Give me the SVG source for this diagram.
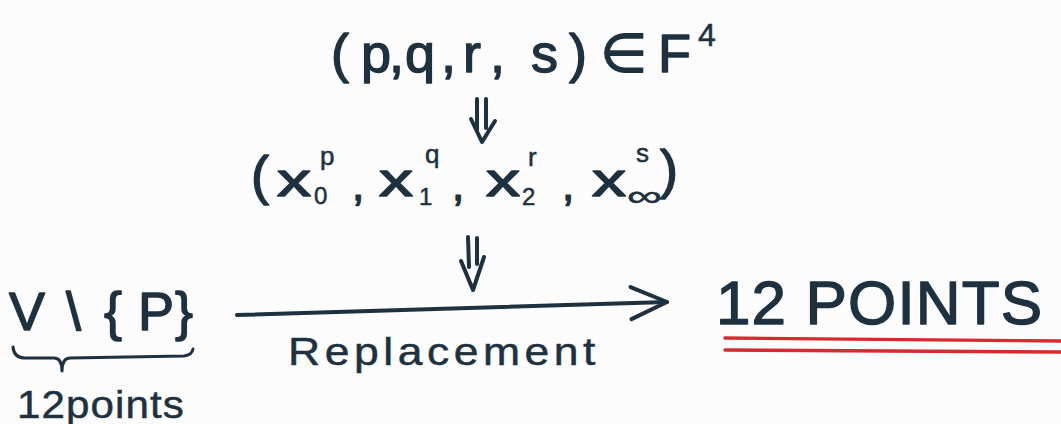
<svg xmlns="http://www.w3.org/2000/svg" width="1061" height="424" viewBox="0 0 1061 424">
  <defs>
    <style>
      .t { font-family: "Liberation Sans", "DejaVu Sans", sans-serif; fill: #1d3140; stroke: #1d3140; stroke-width: 1.4; stroke-linejoin: round; }
      .s { stroke-width: 0.5; }
      .ink { fill: none; stroke: #1d3140; stroke-width: 4; stroke-linecap: round; stroke-linejoin: round; }
      .thin { fill: none; stroke: #1d3140; stroke-width: 3; stroke-linecap: round; stroke-linejoin: round; }
      .red { fill: none; stroke: #d62a2e; stroke-width: 3.4; stroke-linecap: round; }
    </style>
    <marker id="open" markerUnits="userSpaceOnUse" markerWidth="44" markerHeight="40" viewBox="0 0 44 40" refX="40" refY="20" orient="auto">
      <path d="M4,4 L40,20 L4,36" fill="none" stroke="#1d3140" stroke-width="4" stroke-linecap="round" stroke-linejoin="round"/>
    </marker>
  </defs>
  <rect width="1061" height="424" fill="#fcfcfc"/>

  <g id="node-pqrs">
    <text class="t" font-size="54" y="72"><tspan x="331">(</tspan><tspan x="361">p</tspan><tspan x="389">,</tspan><tspan x="405">q</tspan><tspan x="441">,</tspan><tspan x="463">r</tspan><tspan x="490">,</tspan><tspan x="531">s</tspan><tspan x="569">)</tspan><tspan x="600">∈</tspan><tspan x="658">F</tspan></text>
    <text class="t s" font-size="32" x="698" y="46">4</text>
  </g>

  <g id="node-tuple">
    <text class="t" font-size="54" x="251" y="194">(</text>
    <text class="t" font-size="46" x="277" y="196" textLength="34" lengthAdjust="spacingAndGlyphs">x</text>
    <text class="t s" font-size="24" x="314" y="204">0</text>
    <text class="t s" font-size="26" x="320" y="165">p</text>
    <text class="t" font-size="44" x="352" y="200">,</text>
    <text class="t" font-size="46" x="379" y="196" textLength="34" lengthAdjust="spacingAndGlyphs">x</text>
    <text class="t s" font-size="24" x="419" y="205">1</text>
    <text class="t s" font-size="26" x="425" y="163">q</text>
    <text class="t" font-size="44" x="452" y="200">,</text>
    <text class="t" font-size="46" x="486" y="196" textLength="34" lengthAdjust="spacingAndGlyphs">x</text>
    <text class="t s" font-size="24" x="522" y="205">2</text>
    <text class="t s" font-size="26" x="528" y="166">r</text>
    <text class="t" font-size="44" x="562" y="200">,</text>
    <text class="t" font-size="46" x="592" y="196" textLength="34" lengthAdjust="spacingAndGlyphs">x</text>
    <text class="t s" font-size="30" x="627" y="206" textLength="35" lengthAdjust="spacingAndGlyphs">∞</text>
    <text class="t s" font-size="26" x="636" y="162">s</text>
    <text class="t" font-size="54" x="660" y="188">)</text>
  </g>

  <g id="node-source">
    <text class="t" font-size="54" y="330"><tspan x="9">V</tspan><tspan x="66">\</tspan><tspan x="104">{</tspan><tspan x="138">P</tspan><tspan x="175">}</tspan></text>
    <path class="thin" d="M13,347 Q14,358 25,358 L54,358 Q62,358 62,371 Q62,358 70,358 L184,356 Q192,355 193,349"/>
    <text class="t s" font-size="38" x="17" y="418" letter-spacing="1" textLength="168" lengthAdjust="spacingAndGlyphs">12points</text>
  </g>

  <g id="node-target">
    <text class="t" font-size="62" x="716" y="324" textLength="326" lengthAdjust="spacing">12 POINTS</text>
    <path class="red" d="M725,338 L1061,341"/>
    <path class="red" d="M725,350 L1061,352"/>
  </g>

  <g id="connectors">
    <path class="ink" d="M477,99 L477,130 M486,99 L486,128 M471,119 L482,142 L495,121"/>
    <path class="ink" d="M468,237 L469,267 M477,238 L477,264 M461,261 L473,290 L484,257"/>
    <path class="ink" d="M237,315 L667,302" marker-end="url(#open)"/>
    <text class="t s" font-size="39" x="288" y="365" letter-spacing="4" textLength="312" lengthAdjust="spacingAndGlyphs">Replacement</text>
  </g>
</svg>
